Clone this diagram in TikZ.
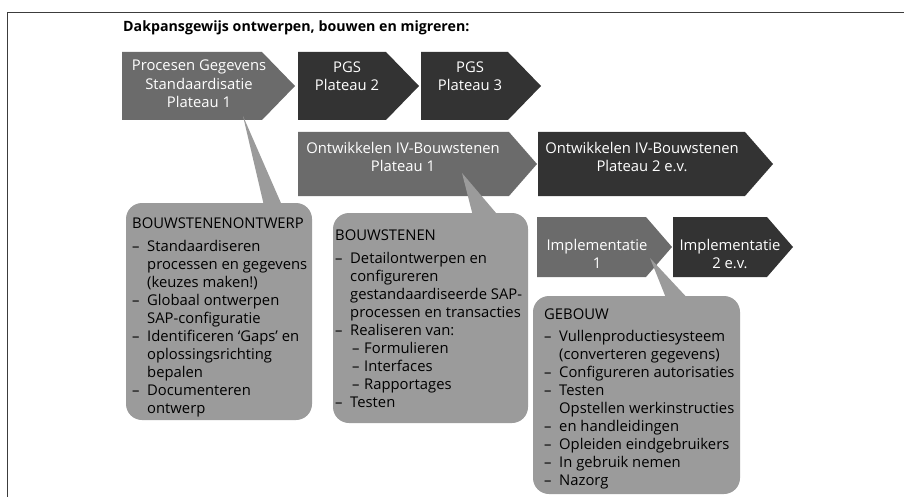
\documentclass[tikz,border=0pt]{standalone}
\usepackage{fontspec}
\setmainfont{Open Sans}
\definecolor{boxmid}{HTML}{6B6B6B}
\definecolor{boxdark}{HTML}{333333}
\definecolor{bubblegray}{HTML}{9B9B9B}
\definecolor{framegray}{HTML}{3C3C3C}
% list helpers: a dash in a fixed-width slot, and a matching indent
\newcommand\itm[1]{\makebox[15pt][l]{–}#1}
\newcommand\cnt[1]{\hspace*{15pt}#1}
\newcommand\subitm[1]{\hspace*{17pt}\makebox[12pt][l]{–}#1}
\begin{document}
\begin{tikzpicture}[x=1pt,y=-1pt,
  midfill/.style={fill=boxmid},
  darkfill/.style={fill=boxdark},
  bubble/.style={fill=bubblegray, rounded corners=16pt},
  pointer/.style={fill=bubblegray},
  boxtext/.style={text=white, align=center, inner sep=0pt,
    font=\fontsize{14.8}{18.5}\selectfont},
  listtext/.style={text=black, align=left, anchor=north west, inner sep=0pt,
    font=\fontsize{14.8}{18}\selectfont},
  titletext/.style={text=black, anchor=west, inner sep=0pt,
    font=\fontsize{14.2}{17}\selectfont\bfseries}]
\useasboundingbox (0,0) rectangle (904,497);

% outer frame (open to the right and bottom)
\draw[framegray, line width=1.6pt] (7.5,497) -- (7.5,12.5) -- (904,12.5);

% heading
\node[titletext] (title) at (123,28) {Dakpansgewijs ontwerpen, bouwen en migreren:};

% row 1: process/data standardisation plateaus
\fill[midfill]  (122,52) -- (262,52) -- (295,86) -- (262,120) -- (122,120) -- cycle;
\fill[darkfill] (298,52) -- (386,52) -- (419,86) -- (386,120) -- (298,120) -- cycle;
\fill[darkfill] (421,52) -- (508,52) -- (541,86) -- (508,120) -- (421,120) -- cycle;
\node[boxtext] (pgs1) at (199,84) {Procesen Gegevens\\Standaardisatie\\Plateau 1};
\node[boxtext] (pgs2) at (347,76) {PGS\\Plateau 2};
\node[boxtext] (pgs3) at (470,76) {PGS\\Plateau 3};

% row 2: building blocks
\fill[midfill]  (298,132) -- (509,132) -- (537,164) -- (509,196) -- (298,196) -- cycle;
\fill[darkfill] (538,132) -- (745,132) -- (773,164) -- (745,196) -- (538,196) -- cycle;
\node[boxtext] (ivb1) at (403,157) {Ontwikkelen IV-Bouwstenen\\Plateau 1};
\node[boxtext] (ivb2) at (642,157) {Ontwikkelen IV-Bouwstenen\\Plateau 2 e.v.};

% row 3: implementation
\fill[midfill]  (537,217) -- (646,217) -- (672,247) -- (646,277) -- (537,277) -- cycle;
\fill[darkfill] (673,217) -- (767,217) -- (793,247) -- (767,277) -- (673,277) -- cycle;
\node[boxtext] (imp1) at (597,254) {Implementatie\\1};
\node[boxtext] (imp2) at (730,254) {Implementatie\\2 e.v.};

% callout anchors on the plateaus
\coordinate (c1) at (243,116);
\coordinate (c2) at (462,173);
\coordinate (c3) at (650,258);

% callout bubbles
\fill[bubble] (126,203) rectangle (312,420);
\fill[bubble] (333,213) rectangle (528,423);
\fill[bubble] (533,296) rectangle (740,494);
\coordinate (b1l) at (265,210); \coordinate (b1r) at (284,210);
\coordinate (b2l) at (474,220); \coordinate (b2r) at (502,220);
\coordinate (b3l) at (668,303); \coordinate (b3r) at (692,303);
\fill[pointer] (c1) -- (b1l) -- (b1r) -- cycle;
\fill[pointer] (c2) -- (b2l) -- (b2r) -- cycle;
\fill[pointer] (c3) -- (b3l) -- (b3r) -- cycle;

\node[listtext] (ontwerp) at (132,218) {BOUWSTENENONTWERP\\[5pt]
\itm{Standaardiseren}\\
\cnt{processen en gegevens}\\
\cnt{(keuzes maken!)}\\
\itm{Globaal ontwerpen}\\
\cnt{SAP-configuratie}\\
\itm{Identificeren ‘Gaps’ en}\\
\cnt{oplossingsrichting}\\
\cnt{bepalen}\\
\itm{Documenteren}\\
\cnt{ontwerp}};

\node[listtext] (bouwstenen) at (335,230) {BOUWSTENEN\\[5pt]
\itm{Detailontwerpen en}\\
\cnt{configureren}\\
\cnt{gestandaardiseerde SAP-}\\
\cnt{processen en transacties}\\
\itm{Realiseren van:}\\
\subitm{Formulieren}\\
\subitm{Interfaces}\\
\subitm{Rapportages}\\
\itm{Testen}};

\node[listtext] (gebouw) at (544,309) {GEBOUW\\[4pt]
\itm{Vullenproductiesysteem}\\
\cnt{(converteren gegevens)}\\
\itm{Configureren autorisaties}\\
\itm{Testen}\\
\cnt{Opstellen werkinstructies}\\
\itm{en handleidingen}\\
\itm{Opleiden eindgebruikers}\\
\itm{In gebruik nemen}\\
\itm{Nazorg}};
\end{tikzpicture}
\end{document}
